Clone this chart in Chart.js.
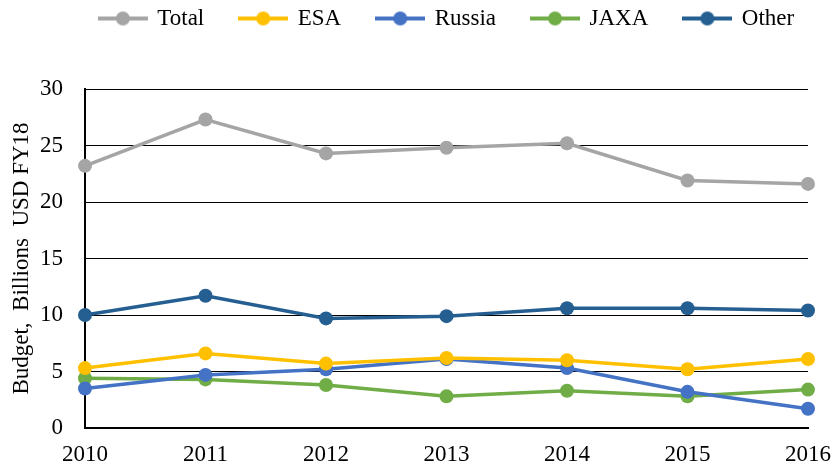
<!DOCTYPE html>
<html>
<head>
<meta charset="utf-8">
<script src="https://cdn.jsdelivr.net/npm/chart.js@4/dist/chart.umd.min.js"></script>
<style>
  html, body { margin: 0; padding: 0; background: #fff; }
  #wrap { width: 834px; height: 468px; }
</style>
</head>
<body>
<div id="wrap"><canvas id="grafico"></canvas></div>
<script>
// dados
const anos = ['2010', '2011', '2012', '2013', '2014', '2015', '2016'];
const total = [23.2, 27.3, 24.3, 24.8, 25.2, 21.9, 21.6];
const esa = [5.3, 6.6, 5.7, 6.2, 6.0, 5.2, 6.1];
const russia = [3.5, 4.7, 5.2, 6.1, 5.3, 3.2, 1.7];
const jaxa = [4.4, 4.3, 3.8, 2.8, 3.3, 2.8, 3.4];
const outros = [10.0, 11.7, 9.7, 9.9, 10.6, 10.6, 10.4];

const fonte = 'Liberation Serif, Times New Roman, serif';

// ícone da legenda: linha com círculo
function icone(cor) {
    const c = document.createElement('canvas');
    c.width = 50; c.height = 16;
    const g = c.getContext('2d');
    g.strokeStyle = cor;
    g.lineWidth = 4;
    g.beginPath();
    g.moveTo(0, 8);
    g.lineTo(50, 8);
    g.stroke();
    g.fillStyle = cor;
    g.beginPath();
    g.arc(25, 8, 7, 0, Math.PI * 2);
    g.fill();
    return c;
}

function serie(label, data, cor) {
    return {
        label: label,
        data: data,
        borderColor: cor,
        backgroundColor: cor,
        borderWidth: 3.5,
        pointRadius: 7,
        pointHoverRadius: 7,
        pointBorderWidth: 0,
        fill: false,
        tension: 0
    };
}

const margemLegenda = {
    id: 'margemLegenda',
    beforeInit(chart) {
        const fit = chart.legend.fit;
        chart.legend.fit = function () {
            fit.bind(chart.legend)();
            this.height = 89;
        };
    },
    afterLayout(chart) {
        chart.legend.left += 26;
        chart.legend.right += 26;
        chart.legend.top -= 29;
        chart.legend.bottom -= 29;
    }
};

const ctx = document.getElementById('grafico').getContext('2d');
const grafico = new Chart(ctx, {
    type: 'line',
    data: {
        labels: anos,
        datasets: [
            serie('Total', total, '#A5A5A5'),
            serie('ESA', esa, '#FFC000'),
            serie('Russia', russia, '#4472C4'),
            serie('JAXA', jaxa, '#70AD47'),
            serie('Other', outros, '#255E91')
        ]
    },
    plugins: [margemLegenda],
    options: {
        responsive: true,
        maintainAspectRatio: false,
        animation: false,
        layout: { padding: { left: 8, right: 0, top: 0, bottom: 0 } },
        plugins: {
            legend: {
                position: 'top',
                labels: {
                    color: '#000',
                    font: { family: fonte, size: 23 },
                    usePointStyle: true,
                    pointStyleWidth: 46,
                    padding: 36,
                    generateLabels(chart) {
                        return chart.data.datasets.map((ds, i) => ({
                            text: ds.label,
                            fillStyle: ds.borderColor,
                            strokeStyle: ds.borderColor,
                            lineWidth: 0,
                            pointStyle: icone(ds.borderColor),
                            fontColor: '#000',
                            datasetIndex: i,
                            hidden: false
                        }));
                    }
                }
            },
            tooltip: { enabled: false }
        },
        scales: {
            x: {
                offset: false,
                grid: { display: false, drawTicks: false },
                border: { display: true, color: '#000', width: 2 },
                ticks: {
                    color: '#000',
                    font: { family: fonte, size: 23 },
                    padding: 13,
                    maxRotation: 0
                },
                afterFit(s) {
                    s.height = 40;
                    s.paddingLeft = 0;
                    s.paddingRight = 26;
                }
            },
            y: {
                min: 0,
                max: 30,
                grid: { color: '#000', lineWidth: 1, drawTicks: false },
                border: { display: true, color: '#000', width: 2 },
                ticks: {
                    stepSize: 5,
                    color: '#000',
                    font: { family: fonte, size: 23 },
                    padding: 22
                },
                title: {
                    display: true,
                    text: 'Budget,  Billions  USD FY18',
                    color: '#000',
                    font: { family: fonte, size: 23 },
                    padding: { top: 0, bottom: 4 }
                },
                afterFit(s) {
                    s.width = 77;
                    s.paddingTop = 0;
                    s.paddingBottom = 0;
                }
            }
        }
    }
});
</script>
</body>
</html>
